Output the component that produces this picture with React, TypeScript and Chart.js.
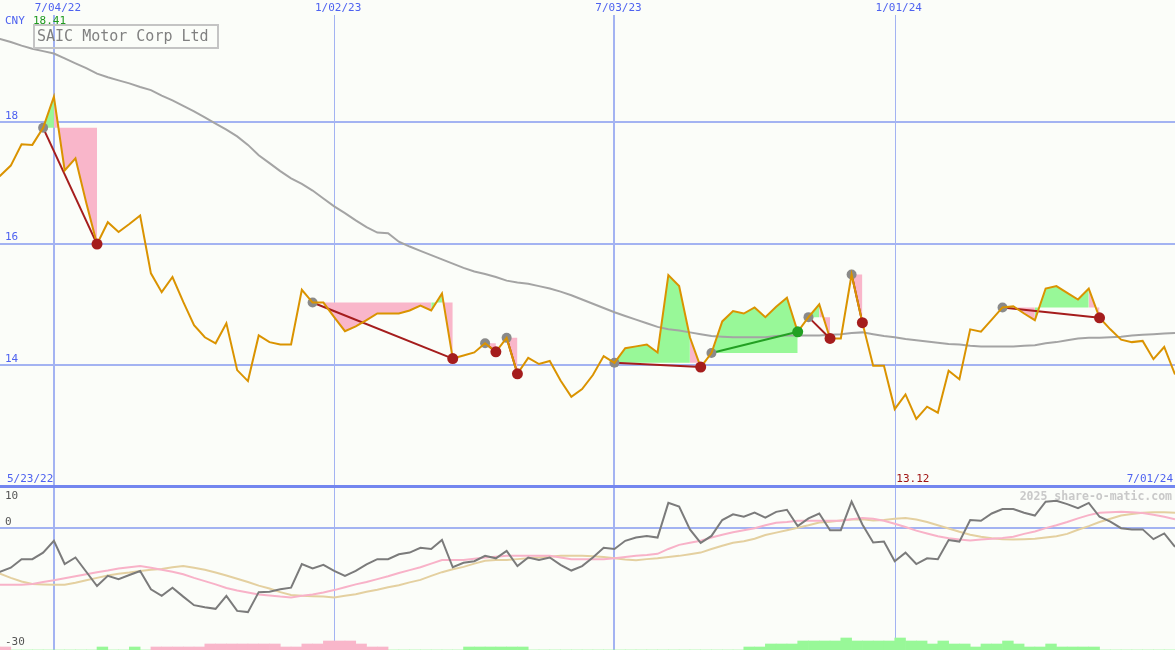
import React, { useEffect, useRef } from "react";
import { Chart, registerables } from "chart.js";

Chart.register(...registerables);

// ---------- data ----------
const firstDate = "5/23/22";
const lastDate = "7/01/24";
const gridIdx = [6, 32, 58, 84];
const gridLabels = ["7/04/22", "1/02/23", "7/03/23", "1/01/24"];
const gridWidths = [2, 1, 2, 1];
const priceTicks = [18, 16, 14];
const oscTickLabels = ["10", "0", "-30"];
const oscTickValues = [10, 0, -30];
const currency = "CNY";
const maxLabel = "18.41";
const minLabel = "13.12";
const minIdx = 86;
const title = "SAIC Motor Corp Ltd";
const watermark = "2025 share-o-matic.com";

const prices = [
  17.0, 17.11, 17.28, 17.63, 17.62, 17.9, 18.41, 17.2, 17.4, 16.67,
  15.99, 16.35, 16.19, 16.32, 16.46, 15.51, 15.2, 15.45, 15.04, 14.66,
  14.46, 14.36, 14.69, 13.92, 13.74, 14.49, 14.38, 14.34, 14.34, 15.24,
  15.03, 15.03, 14.79, 14.56, 14.64, 14.74, 14.85, 14.85, 14.85, 14.9,
  14.98, 14.9, 15.18, 14.11, 14.16, 14.21, 14.36, 14.22, 14.45, 13.86,
  14.12, 14.02, 14.07, 13.75, 13.48, 13.61, 13.84, 14.15, 14.04, 14.28,
  14.31, 14.34, 14.21, 15.48, 15.3, 14.46, 13.97, 14.2, 14.72, 14.89,
  14.85, 14.95, 14.79, 14.96, 15.11, 14.55, 14.79, 15.0, 14.44, 14.44,
  15.49, 14.7, 13.99, 13.99, 13.28, 13.52, 13.12, 13.32, 13.22, 13.91,
  13.77, 14.59, 14.55, 14.75, 14.95, 14.97, 14.85, 14.74, 15.26, 15.3,
  15.19, 15.08, 15.26, 14.78, 14.59, 14.42, 14.38, 14.4, 14.1, 14.3,
  13.85,
];

const movingAvg = [
  19.41, 19.36, 19.31, 19.25, 19.2, 19.16, 19.12, 19.04, 18.96, 18.88,
  18.79, 18.73, 18.68, 18.63, 18.57, 18.52, 18.43, 18.35, 18.26, 18.17,
  18.07, 17.97, 17.87, 17.76, 17.62, 17.45, 17.32, 17.19, 17.07, 16.98,
  16.87, 16.74, 16.61, 16.5, 16.38, 16.27, 16.18, 16.17, 16.03, 15.95,
  15.88, 15.81, 15.74, 15.67, 15.6, 15.54, 15.5, 15.45, 15.39, 15.36,
  15.34, 15.3, 15.26, 15.21, 15.15, 15.08, 15.01, 14.94, 14.87, 14.81,
  14.75, 14.69, 14.63, 14.59, 14.57, 14.54, 14.51, 14.48, 14.47, 14.46,
  14.46, 14.46, 14.46, 14.48, 14.49, 14.49, 14.49, 14.49, 14.5, 14.51,
  14.53, 14.54, 14.51, 14.48, 14.46, 14.43, 14.41, 14.39, 14.37, 14.35,
  14.34, 14.32, 14.31, 14.31, 14.31, 14.31, 14.32, 14.33, 14.36, 14.38,
  14.41, 14.44, 14.45, 14.45, 14.46, 14.47, 14.49, 14.5, 14.51, 14.52,
  14.53,
];

const tradeEntries = [5, 30, 46, 48, 58, 67, 76, 80, 94];
const tradeExits = [10, 43, 47, 49, 66, 75, 78, 81, 103];

const momentum = [
  -11.5, -10.8, -9.8, -7.7, -7.7, -6.1, -3.2, -8.9, -7.3, -10.8,
  -14.3, -11.8, -12.6, -11.6, -10.6, -15.1, -16.7, -14.7, -16.9, -19.0,
  -19.5, -19.9, -16.7, -20.4, -20.7, -15.8, -15.7, -15.1, -14.7, -8.9,
  -10.0, -9.1, -10.6, -11.8, -10.6, -9.0, -7.7, -7.7, -6.5, -6.1,
  -4.9, -5.2, -3.0, -9.7, -8.6, -8.2, -6.9, -7.5, -5.7, -9.4,
  -7.3, -7.9, -7.3, -9.1, -10.5, -9.4, -7.3, -4.9, -5.2, -3.2,
  -2.4, -2.0, -2.4, 6.1, 5.2, -0.4, -3.7, -2.0, 1.9, 3.3,
  2.7, 3.7, 2.5, 3.9, 4.4, 0.4, 2.3, 3.5, -0.6, -0.6,
  6.4, 0.8, -3.6, -3.4, -8.2, -6.1, -8.9, -7.5, -7.7, -3.0,
  -3.4, 1.9, 1.7, 3.5, 4.6, 4.6, 3.7, 3.0, 6.4, 6.6,
  5.8, 4.8, 6.1, 2.7, 1.5, -0.1, -0.4, -0.4, -2.8, -1.4,
  -4.7,
];

const signalPink = [
  -14.0, -14.0, -14.0, -14.0, -13.8, -13.3, -12.9, -12.4, -11.9, -11.4,
  -10.9, -10.5, -10.0, -9.7, -9.4, -9.8, -10.3, -10.8, -11.4, -12.3,
  -13.1, -13.9, -14.8, -15.4, -15.9, -16.4, -16.6, -16.9, -17.1, -16.7,
  -16.4, -15.9, -15.3, -14.6, -13.9, -13.3, -12.6, -11.9, -11.1, -10.4,
  -9.7, -8.8, -7.9, -7.9, -7.9, -7.6, -7.3, -7.1, -6.9, -6.9,
  -6.9, -6.9, -6.9, -7.3, -7.7, -7.7, -7.7, -7.7, -7.5, -7.2,
  -6.9, -6.7, -6.4, -5.2, -4.2, -3.7, -3.2, -2.4, -1.7, -1.1,
  -0.6, -0.1, 0.6, 1.2, 1.4, 1.7, 1.7, 1.7, 1.7, 1.7,
  2.1, 2.4, 2.2, 1.7, 1.0, 0.2, -0.7, -1.4, -2.1, -2.6,
  -2.9, -3.1, -2.9, -2.7, -2.5, -2.2, -1.5, -0.9, -0.1, 0.6,
  1.4, 2.3, 3.1, 3.7, 3.8, 3.9, 3.8, 3.6, 3.2, 2.7,
  2.1,
];

const signalTan = [
  -10.4, -11.3, -12.3, -13.2, -13.8, -13.9, -14.0, -14.0, -13.5, -12.9,
  -12.3, -11.7, -11.3, -11.0, -10.6, -10.3, -10.1, -9.7, -9.4, -9.8,
  -10.3, -11.0, -11.7, -12.5, -13.3, -14.2, -14.9, -15.8, -16.5, -16.7,
  -16.8, -16.9, -17.1, -16.7, -16.3, -15.7, -15.2, -14.6, -14.1, -13.4,
  -12.8, -11.8, -10.9, -10.2, -9.6, -8.8, -8.1, -7.9, -7.9, -7.7,
  -7.5, -7.3, -7.1, -6.9, -6.9, -6.9, -7.0, -7.2, -7.5, -7.8,
  -8.0, -7.7, -7.5, -7.2, -6.9, -6.5, -6.1, -5.2, -4.4, -3.7,
  -3.3, -2.7, -1.8, -1.2, -0.6, 0.0, 0.6, 1.3, 1.5, 1.8,
  2.0, 2.1, 1.8, 1.9, 2.2, 2.4, 2.0, 1.4, 0.6, -0.2,
  -1.0, -1.7, -2.2, -2.6, -2.8, -2.9, -2.8, -2.7, -2.4, -2.1,
  -1.5, -0.5, 0.4, 1.4, 2.2, 3.0, 3.4, 3.7, 3.8, 3.8,
  3.7,
];

const histogram = [
  -1, -1, 0, 0, 0, 0, 0, 0, 0, 0,
  1, 0, 0, 1, 0, -1, -1, -1, -1, -1,
  -2, -2, -2, -2, -2, -2, -2, -1, -1, -2,
  -2, -3, -3, -3, -2, -1, -1, 0, 0, 0,
  0, 0, 0, 0, 1, 1, 1, 1, 1, 1,
  0, 0, 0, 0, 0, 0, 0, 0, 0, 0,
  0, 0, 0, 0, 0, 0, 0, 0, 0, 0,
  1, 1, 2, 2, 2, 3, 3, 3, 3, 4,
  3, 3, 3, 3, 4, 3, 3, 2, 3, 2,
  2, 1, 2, 2, 3, 2, 1, 1, 2, 1,
  1, 1, 1, 0, 0, 0, 0, 0, 0, 0,
  0,
];

// ---------- styles ----------
const W = 1175;
const H_TOP = 487;
const H_BOT = 163;
const BG = "#fbfdf9";
const GRID = "#a3b3f2";
const SEP = "#7386ef";
const TXT_BLUE = "#4e62f0";
const PRICE_C = "#da9300";
const MA_C = "#a4a4a4";
const FILL_G = "#98f898";
const FILL_P = "#f9b6ca";
const LOSS_C = "#a51d1d";
const WIN_C = "#23a023";
const ENTRY_C = "#8a8a8a";
const MONO = '"DejaVu Sans Mono", "Liberation Mono", monospace';

const commonOpts: any = {
  responsive: false,
  animation: false,
  events: [],
  layout: { padding: 0, autoPadding: false },
  plugins: { legend: { display: false }, tooltip: { enabled: false } },
};

const bgPlugin = {
  id: "bg",
  beforeDraw(chart: any) {
    const { ctx, width, height } = chart;
    ctx.save();
    ctx.fillStyle = BG;
    ctx.fillRect(0, 0, width, height);
    ctx.restore();
  },
};

const topGrid = {
  id: "topGrid",
  beforeDatasetsDraw(chart: any) {
    const { ctx, scales, width, height } = chart;
    const x = scales.x;
    const y = scales.y;
    ctx.save();
    ctx.fillStyle = GRID;
    priceTicks.forEach((v) => {
      const py = Math.round(y.getPixelForValue(v));
      ctx.fillRect(0, py - 1, width, 2);
    });
    gridIdx.forEach((g, k) => {
      const px = Math.round(x.getPixelForValue(g));
      const w = gridWidths[k];
      ctx.fillRect(px - (w > 1 ? 1 : 0), 15, w, height - 15);
    });
    ctx.fillStyle = SEP;
    ctx.fillRect(0, height - 2, width, 2);
    ctx.restore();
  },
  afterDatasetsDraw(chart: any) {
    const { ctx, scales, width, height } = chart;
    const x = scales.x;
    const y = scales.y;
    ctx.save();
    ctx.font = `11px ${MONO}`;
    ctx.textBaseline = "middle";
    ctx.fillStyle = TXT_BLUE;
    ctx.textAlign = "center";
    gridIdx.forEach((g, k) => {
      const px = x.getPixelForValue(g);
      ctx.fillText(gridLabels[k], px + 4, 8);
    });
    ctx.textAlign = "left";
    priceTicks.forEach((v) => {
      const py = y.getPixelForValue(v);
      ctx.fillText(String(v), 5, py - 6);
    });
    ctx.fillText(currency, 5, 21);
    ctx.fillText(firstDate, 7, height - 8);
    ctx.textAlign = "right";
    ctx.fillText(lastDate, width - 2, height - 8);
    ctx.textAlign = "left";
    ctx.fillStyle = "#1f9a1f";
    ctx.fillText(maxLabel, 33, 21);
    ctx.fillStyle = "#a01515";
    ctx.fillText(minLabel, x.getPixelForValue(minIdx) - 20, height - 8);
    // title box
    ctx.strokeStyle = "#c4c4c4";
    ctx.lineWidth = 2;
    ctx.strokeRect(34, 25, 184, 23);
    ctx.fillStyle = "#808080";
    ctx.font = `15px ${MONO}`;
    ctx.fillText(title, 37, 37);
    ctx.restore();
  },
};

const botGrid = {
  id: "botGrid",
  beforeDatasetsDraw(chart: any) {
    const { ctx, scales, width, height } = chart;
    const x = scales.x;
    const y = scales.y;
    ctx.save();
    ctx.fillStyle = GRID;
    const zy = Math.round(y.getPixelForValue(0));
    ctx.fillRect(0, zy - 1, width, 2);
    gridIdx.forEach((g, k) => {
      const px = Math.round(x.getPixelForValue(g));
      const w = gridWidths[k];
      ctx.fillRect(px - (w > 1 ? 1 : 0), 0, w, height);
    });
    ctx.fillStyle = SEP;
    ctx.fillRect(0, 0, width, 1);
    ctx.restore();
  },
  afterDatasetsDraw(chart: any) {
    const { ctx, scales, width } = chart;
    const y = scales.y;
    ctx.save();
    ctx.textBaseline = "middle";
    ctx.font = `11px ${MONO}`;
    ctx.fillStyle = "#555555";
    ctx.textAlign = "left";
    oscTickValues.forEach((v, k) => {
      let py = y.getPixelForValue(v);
      if (k === 0) py += 9;
      else if (k === 1) py -= 6;
      else py -= 8;
      ctx.fillText(oscTickLabels[k], 5, py);
    });
    ctx.font = `bold 11.5px ${MONO}`;
    ctx.fillStyle = "#c9c9c9";
    ctx.textAlign = "right";
    ctx.fillText(watermark, width - 3, 10);
    ctx.restore();
  },
};

export default function App() {
  const topRef = useRef<HTMLCanvasElement>(null);
  const botRef = useRef<HTMLCanvasElement>(null);

  useEffect(() => {
    document.body.style.margin = "0";
    const pts = (arr: number[]) => arr.map((v, i) => ({ x: i, y: v }));

    const fillSets = tradeEntries.map((e, t) => {
      const ex = tradeExits[t];
      const lvl = prices[e];
      const data: { x: number; y: number }[] = [];
      for (let i = e; i <= ex; i++) data.push({ x: i, y: prices[i] });
      return {
        data,
        borderWidth: 0,
        borderColor: "rgba(0,0,0,0)",
        pointRadius: 0,
        backgroundColor: FILL_G,
        fill: { value: lvl },
        tension: 0,
        order: 20,
        segment: {
          backgroundColor: (c: any) =>
            prices[e + c.p1DataIndex] >= lvl ? FILL_G : FILL_P,
        },
      };
    });

    const tradeLines = tradeEntries.map((e, t) => {
      const ex = tradeExits[t];
      const win = prices[ex] >= prices[e];
      return {
        data: [
          { x: e, y: prices[e] },
          { x: ex, y: prices[ex] },
        ],
        borderColor: win ? WIN_C : LOSS_C,
        borderWidth: 2,
        pointRadius: 0,
        fill: false,
        order: 8,
      };
    });

    const top = new Chart(topRef.current as HTMLCanvasElement, {
      type: "line",
      data: {
        datasets: [
          ...fillSets,
          {
            data: pts(movingAvg),
            borderColor: MA_C,
            borderWidth: 2,
            pointRadius: 0,
            fill: false,
            order: 15,
          },
          ...tradeLines,
          {
            data: tradeEntries.map((e) => ({ x: e, y: prices[e] })),
            showLine: false,
            pointRadius: 5,
            pointBorderWidth: 0,
            pointBackgroundColor: ENTRY_C,
            order: 7,
          },
          {
            data: pts(prices),
            borderColor: PRICE_C,
            borderWidth: 2,
            pointRadius: 0,
            fill: false,
            tension: 0,
            order: 5,
          },
          {
            data: tradeExits.map((x) => ({ x, y: prices[x] })),
            showLine: false,
            pointRadius: 5.5,
            pointBorderWidth: 0,
            pointBackgroundColor: tradeExits.map((x, t) =>
              prices[x] >= prices[tradeEntries[t]] ? WIN_C : LOSS_C
            ),
            order: 1,
          },
        ] as any,
      },
      options: {
        ...commonOpts,
        scales: {
          x: { type: "linear", min: 1, max: 110, display: false, offset: false },
          y: { type: "linear", min: 12, max: 20, display: false },
        },
      },
      plugins: [bgPlugin, topGrid],
    });

    const bot = new Chart(botRef.current as HTMLCanvasElement, {
      type: "line",
      data: {
        datasets: [
          {
            data: pts(momentum),
            borderColor: "#7b7b7b",
            borderWidth: 2,
            pointRadius: 0,
            fill: false,
            order: 1,
          },
          {
            data: pts(signalTan),
            borderColor: "#e4d0a0",
            borderWidth: 2,
            pointRadius: 0,
            fill: false,
            order: 3,
          },
          {
            data: pts(signalPink),
            borderColor: "#f8b2c8",
            borderWidth: 2,
            pointRadius: 0,
            fill: false,
            order: 2,
          },
          {
            type: "bar",
            yAxisID: "yh",
            data: histogram.map((v, i) => ({ x: i + 0.5, y: Math.abs(v) })),
            backgroundColor: histogram.map((v) => (v < 0 ? FILL_P : FILL_G)),
            borderWidth: 0,
            barPercentage: 1,
            categoryPercentage: 1,
            order: 10,
          },
        ] as any,
      },
      options: {
        ...commonOpts,
        scales: {
          x: { type: "linear", min: 1, max: 110, display: false, offset: false },
          y: { type: "linear", min: -30, max: 10, display: false },
          yh: { type: "linear", min: 0, max: H_BOT / 3, display: false },
        },
      },
      plugins: [bgPlugin, botGrid],
    });

    return () => {
      top.destroy();
      bot.destroy();
    };
  }, []);

  return (
    <div style={{ width: W, height: H_TOP + H_BOT, background: BG }}>
      <canvas ref={topRef} width={W} height={H_TOP} style={{ display: "block" }} />
      <canvas ref={botRef} width={W} height={H_BOT} style={{ display: "block" }} />
    </div>
  );
}
